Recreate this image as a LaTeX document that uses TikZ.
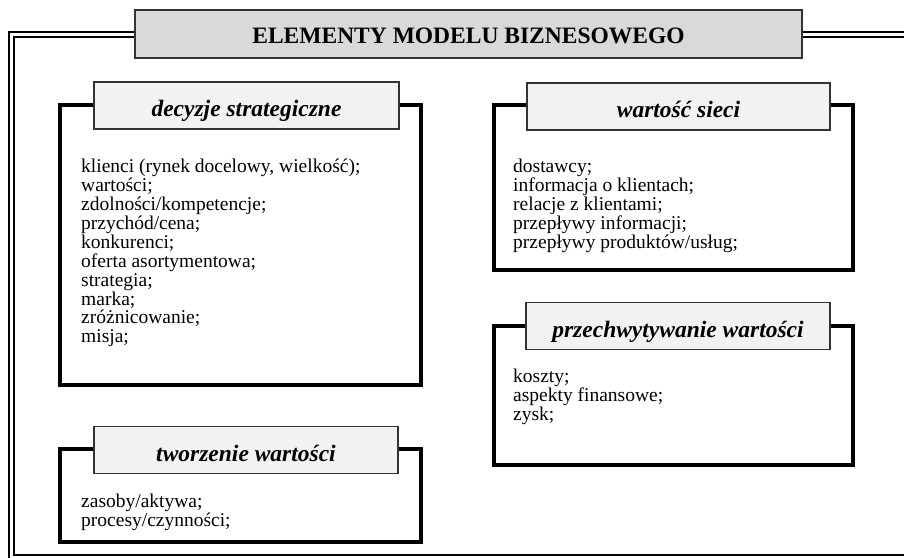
\documentclass[tikz,border=0pt]{standalone}
\usepackage{fontspec}
\setmainfont{Liberation Serif}
\usetikzlibrary{positioning}

\begin{document}
\begin{tikzpicture}[
    x=1pt, y=-1pt,
    titlebox/.style={rectangle, draw=black!80, line width=1.4pt, fill=black!15,
                  minimum width=667pt, minimum height=48pt, inner sep=0pt,
                  text height=18pt, text depth=0pt,
                  font=\fontsize{23.5}{26}\selectfont\bfseries},
    headbox/.style={rectangle, draw=black!80, line width=1.4pt, fill=black!5,
                  minimum width=#1, minimum height=47pt, inner sep=0pt,
                  text height=22pt, text depth=0pt,
                  font=\fontsize{23.5}{26}\selectfont\bfseries\itshape},
    frame/.style={line width=4pt, draw=black},
    items/.style={align=left, anchor=north west, inner sep=0pt,
                  font=\fontsize{19.5}{18.9}\selectfont},
]
    \clip (0,0) rectangle (904,557);

    % outer double frame
    \draw[line width=2.4pt] (9,32) rectangle (916,562);
    \draw[line width=1.4pt] (14,37) rectangle (911,555);

    \node[titlebox] (title) at (468.5,34) {ELEMENTY MODELU BIZNESOWEGO};

    % frames of the four groups
    \draw[frame] (59.5,105) rectangle (420.5,385);
    \draw[frame] (494,105) rectangle (852.5,270);
    \draw[frame] (494,326) rectangle (852.5,465);
    \draw[frame] (59.5,449) rectangle (420.5,542);

    \node[headbox=305pt] (strat) at (246.5,105.5) {decyzje strategiczne};
    \node[headbox=303pt] (siec) at (678.5,106.5) {wartość sieci};
    \node[headbox=304pt] (przech) at (678,326) {przechwytywanie wartości};
    \node[headbox=304pt] (tworz) at (246,450) {tworzenie wartości};

    \node[items] (stratlist) at (81,159) {klienci (rynek docelowy, wielkość);\\wartości;\\
        zdolności/kompetencje;\\przychód/cena;\\konkurenci;\\oferta asortymentowa;\\
        strategia;\\marka;\\zróżnicowanie;\\misja;};
    \node[items] (sieclist) at (513,159) {dostawcy;\\informacja o klientach;\\
        relacje z klientami;\\przepływy informacji;\\przepływy produktów/usług;};
    \node[items] (przechlist) at (513,369) {koszty;\\aspekty finansowe;\\zysk;};
    \node[items] (tworzlist) at (81,494) {zasoby/aktywa;\\procesy/czynności;};
\end{tikzpicture}
\end{document}
